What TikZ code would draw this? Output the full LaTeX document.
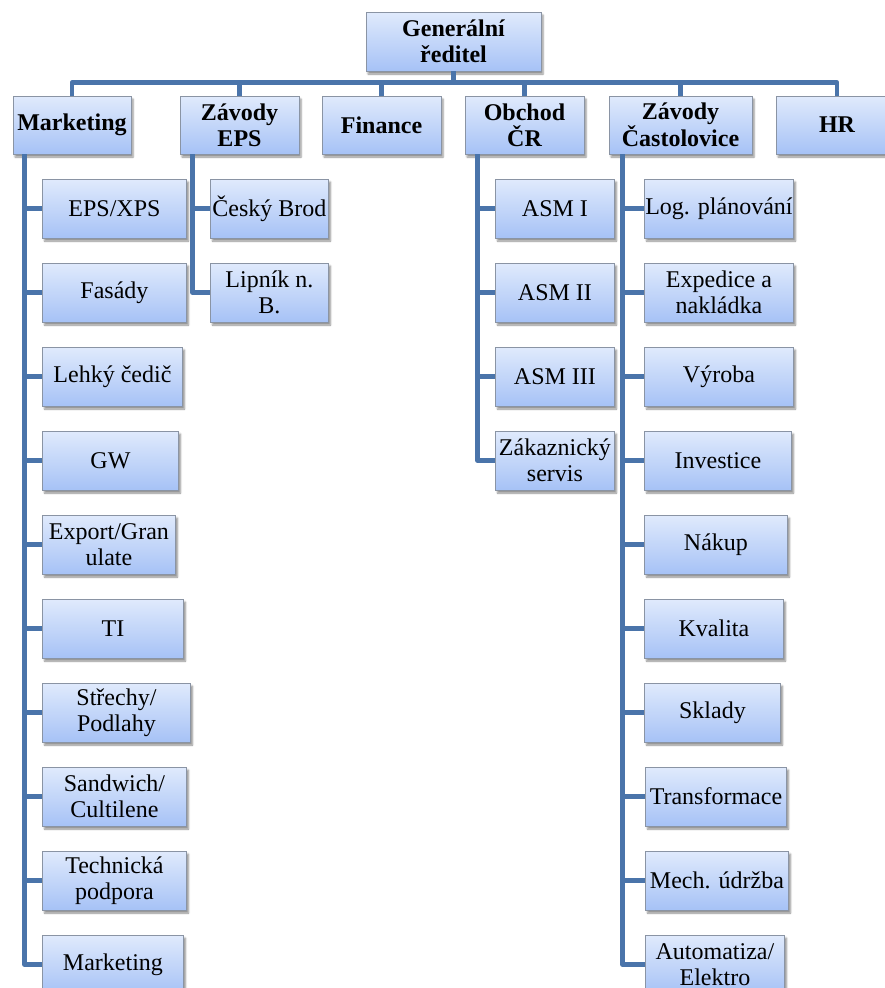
\documentclass[tikz,border=0pt]{standalone}
\usepackage{fontspec}
\setmainfont{Liberation Serif}
\usetikzlibrary{shadows.blur}

\definecolor{boxtop}{HTML}{E0EAFC}
\definecolor{boxbot}{HTML}{A6C2F6}
\definecolor{boxline}{HTML}{8A94A4}
\definecolor{linkblue}{HTML}{4A74AA}

\tikzset{
	unit/.style={draw=boxline, line width=0.9pt, top color=boxtop, bottom color=boxbot,
		minimum height=59pt, inner sep=0pt, align=center,
		font=\fontsize{24}{26}\selectfont,
		blur shadow={shadow xshift=2pt, shadow yshift=-3pt, shadow opacity=45, shadow blur steps=4}},
	head/.style={unit, font=\fontsize{24}{26}\selectfont\bfseries},
	sub/.style={unit, anchor=west},
	link/.style={draw=linkblue, line width=4.5pt, line join=round}
}

\begin{document}
\begin{tikzpicture}[x=1pt,y=-1pt]
			\useasboundingbox (0,0) rectangle (884,988);

			% generalni reditel a useky
			\node[head, minimum width=175pt] (gen) at (453.5,41.5) {Generální\\ředitel};
			\node[head, minimum width=118pt, minimum height=58pt] (mkt) at (72,125) {Marketing};
			\node[head, minimum width=119pt, minimum height=58pt] (zeps) at (239.5,125) {Závody\\EPS};
			\node[head, minimum width=119pt, minimum height=58pt] (fin) at (381.5,125) {Finance};
			\node[head, minimum width=119pt, minimum height=58pt] (obch) at (524.5,125) {Obchod\\ČR};
			\node[head, minimum width=143pt, minimum height=58pt] (zcas) at (680.5,125) {Závody\\Častolovice};
			\node[head, minimum width=122pt, minimum height=58pt] (hr) at (837,125) {HR};

			\draw[link] (gen.south) -- ++(0,11) -| (mkt.north);
			\draw[link] (gen.south) -- ++(0,11) -| (zeps.north);
			\draw[link] (gen.south) -- ++(0,11) -| (fin.north);
			\draw[link] (gen.south) -- ++(0,11) -| (obch.north);
			\draw[link] (gen.south) -- ++(0,11) -| (zcas.north);
			\draw[link] (gen.south) -- ++(0,11) -| (hr.north);

			% marketing
			\node[sub, minimum width=144pt] (mk1) at (42,208.5) {EPS/XPS};
			\node[sub, minimum width=144pt] (mk2) at (42,292.5) {Fasády};
			\node[sub, minimum width=140pt] (mk3) at (42,376.5) {Lehký čedič};
			\node[sub, minimum width=136pt] (mk4) at (42,460.5) {GW};
			\node[sub, minimum width=133pt] (mk5) at (42,544.5) {Export/Gran\\ulate};
			\node[sub, minimum width=141pt] (mk6) at (42,628.5) {TI};
			\node[sub, minimum width=148pt] (mk7) at (42,712.5) {Střechy/\\Podlahy};
			\node[sub, minimum width=144pt] (mk8) at (42,796.5) {Sandwich/\\Cultilene};
			\node[sub, minimum width=144pt] (mk9) at (42,880.5) {Technická\\podpora};
			\node[sub, minimum width=141pt] (mk10) at (42,964.5) {Marketing};
			\draw[link] ([xshift=12pt]mkt.south west) |- (mk1.west);
			\draw[link] ([xshift=12pt]mkt.south west) |- (mk2.west);
			\draw[link] ([xshift=12pt]mkt.south west) |- (mk3.west);
			\draw[link] ([xshift=12pt]mkt.south west) |- (mk4.west);
			\draw[link] ([xshift=12pt]mkt.south west) |- (mk5.west);
			\draw[link] ([xshift=12pt]mkt.south west) |- (mk6.west);
			\draw[link] ([xshift=12pt]mkt.south west) |- (mk7.west);
			\draw[link] ([xshift=12pt]mkt.south west) |- (mk8.west);
			\draw[link] ([xshift=12pt]mkt.south west) |- (mk9.west);
			\draw[link] ([xshift=12pt]mkt.south west) |- (mk10.west);

			% zavody EPS
			\node[sub, minimum width=118pt] (ep1) at (210,208.5) {Český Brod};
			\node[sub, minimum width=118pt] (ep2) at (210,292.5) {Lipník n.\\B.};
			\draw[link] ([xshift=13pt]zeps.south west) |- (ep1.west);
			\draw[link] ([xshift=13pt]zeps.south west) |- (ep2.west);

			% obchod CR
			\node[sub, minimum width=119pt] (ob1) at (495,208.5) {ASM I};
			\node[sub, minimum width=119pt] (ob2) at (495,292.5) {ASM II};
			\node[sub, minimum width=119pt] (ob3) at (495,376.5) {ASM III};
			\node[sub, minimum width=119pt] (ob4) at (495,460.5) {Zákaznický\\servis};
			\draw[link] ([xshift=13pt]obch.south west) |- (ob1.west);
			\draw[link] ([xshift=13pt]obch.south west) |- (ob2.west);
			\draw[link] ([xshift=13pt]obch.south west) |- (ob3.west);
			\draw[link] ([xshift=13pt]obch.south west) |- (ob4.west);

			% zavody Castolovice
			\node[sub, minimum width=149pt] (ca1) at (644,208.5) {Log. plánování};
			\node[sub, minimum width=149pt] (ca2) at (644,292.5) {Expedice a\\nakládka};
			\node[sub, minimum width=149pt] (ca3) at (644,376.5) {Výroba};
			\node[sub, minimum width=147pt] (ca4) at (644,460.5) {Investice};
			\node[sub, minimum width=143pt] (ca5) at (644,544.5) {Nákup};
			\node[sub, minimum width=139pt] (ca6) at (644,628.5) {Kvalita};
			\node[sub, minimum width=136pt] (ca7) at (644,712.5) {Sklady};
			\node[sub, minimum width=141pt] (ca8) at (645,796.5) {Transformace};
			\node[sub, minimum width=143pt] (ca9) at (645,880.5) {Mech. údržba};
			\node[sub, minimum width=139pt] (ca10) at (645,964.5) {Automatiza/\\Elektro};
			\draw[link] ([xshift=14pt]zcas.south west) |- (ca1.west);
			\draw[link] ([xshift=14pt]zcas.south west) |- (ca2.west);
			\draw[link] ([xshift=14pt]zcas.south west) |- (ca3.west);
			\draw[link] ([xshift=14pt]zcas.south west) |- (ca4.west);
			\draw[link] ([xshift=14pt]zcas.south west) |- (ca5.west);
			\draw[link] ([xshift=14pt]zcas.south west) |- (ca6.west);
			\draw[link] ([xshift=14pt]zcas.south west) |- (ca7.west);
			\draw[link] ([xshift=14pt]zcas.south west) |- (ca8.west);
			\draw[link] ([xshift=14pt]zcas.south west) |- (ca9.west);
			\draw[link] ([xshift=14pt]zcas.south west) |- (ca10.west);
		\end{tikzpicture}
\end{document}
